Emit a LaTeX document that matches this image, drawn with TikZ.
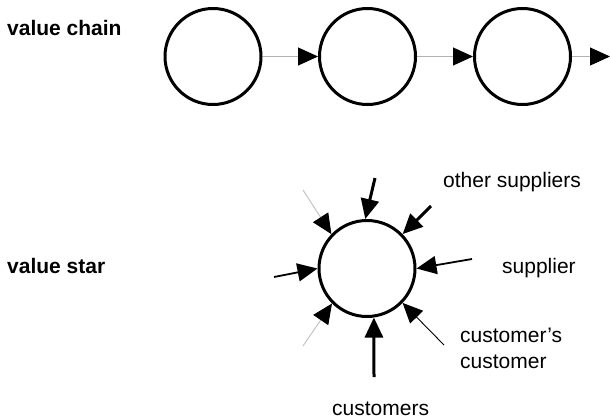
\documentclass[tikz,border=0pt]{standalone}
\usepackage{fontspec}
\setmainfont{Liberation Sans}
\usetikzlibrary{arrows.meta}
\begin{document}
\begin{tikzpicture}[x=1pt,y=-1pt,
  stage/.style={circle,draw=black,line width=3pt,minimum size=96pt,inner sep=0pt},
  tip/.style={-{Triangle[length=20pt,width=18pt,color=black]}},
  flow/.style={tip,draw=black!30,line width=1pt},
  heavy/.style={tip,draw=black,line width=3pt},
  medium/.style={tip,draw=black,line width=1.8pt},
  light/.style={tip,draw=black,line width=0.9pt},
  faint/.style={tip,draw=black!25,line width=0.9pt},
  label/.style={inner sep=0pt,anchor=base west,font=\fontsize{21}{25}\selectfont},
  title/.style={label,font=\fontsize{21}{25}\selectfont\bfseries}]
\useasboundingbox (0,0) rectangle (610,418);

% value chain
\node[title] (chainlbl) at (7,35) {value chain};
\node[stage] (c1) at (213,56.5) {};
\node[stage] (c2) at (367.5,56.5) {};
\node[stage] (c3) at (522.5,56.5) {};
\coordinate (cend) at (610,56.5);
\draw[flow] (c1) -- (c2);
\draw[flow] (c2) -- (c3);
\draw[flow] (c3) -- (cend);

% value star
\node[title] (starlbl) at (7,273) {value star};
\node[stage] (star) at (367,268.5) {};

\coordinate (pT)  at (375,178);
\coordinate (pOS) at (431,206);
\coordinate (pS)  at (472,259);
\coordinate (pCC) at (444,345);
\coordinate (pB)  at (374,377);
\coordinate (pLL) at (303,346);
\coordinate (pL)  at (274,277);
\coordinate (pUL) at (303,190);

\draw[heavy]  (pT)  -- (star.92);
\draw[heavy]  (pOS) -- (star.44.6);
\draw[medium] (pS)  -- (star.0);
\draw[light]  (pCC) -- (star.-44.6);
\draw[heavy]  (pB)  -- (star.-82);
\draw[faint]  (pLL) -- (star.-135);
\draw[medium] (pL)  -- (star.180);
\draw[faint]  (pUL) -- (star.136);

\node[label] (os)  at (443,187) {other suppliers};
\node[label] (sup) at (502,273) {supplier};
\node[label] (cc1) at (460,342) {customer’s};
\node[label] (cc2) at (460,368) {customer};
\node[label] (cus) at (332,415) {customers};
\end{tikzpicture}
\end{document}
